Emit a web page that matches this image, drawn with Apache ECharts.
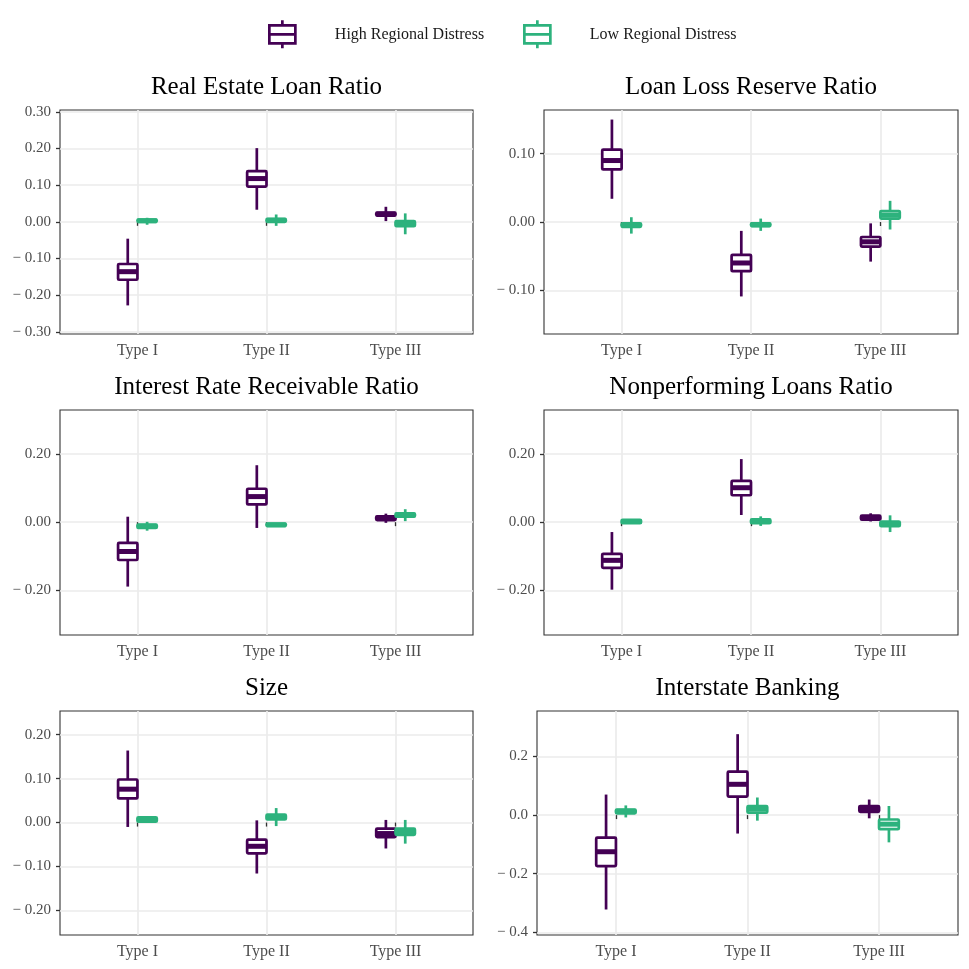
<!DOCTYPE html>
<html>
<head>
<meta charset="utf-8">
<script src="https://cdn.jsdelivr.net/npm/echarts@6/dist/echarts.min.js"></script>
<style>
  html, body { margin: 0; padding: 0; background: #fff; }
  #chart { width: 969px; height: 969px; }
</style>
</head>
<body>
<div id="chart"></div>
<script>
// categories and group names
const types = ['Type I', 'Type II', 'Type III'];
const groups = ['High Regional Distress', 'Low Regional Distress'];
const panelTitles = ['Real Estate Loan Ratio', 'Loan Loss Reserve Ratio', 'Interest Rate Receivable Ratio',
  'Nonperforming Loans Ratio', 'Size', 'Interstate Banking'];

// box stats per type: [lower whisker, q1, median, q3, upper whisker]
const realEstateHigh = [[-0.228, -0.158, -0.136, -0.115, -0.046], [0.033, 0.096, 0.118, 0.138, 0.201], [0.002, 0.017, 0.021, 0.025, 0.041]];
const realEstateLow = [[-0.008, 0.000, 0.003, 0.006, 0.011], [-0.011, 0.000, 0.004, 0.008, 0.020], [-0.034, -0.012, -0.005, 0.002, 0.023]];
const loanLossHigh = [[0.034, 0.077, 0.090, 0.106, 0.150], [-0.109, -0.072, -0.060, -0.048, -0.013], [-0.058, -0.036, -0.029, -0.022, -0.002]];
const loanLossLow = [[-0.017, -0.007, -0.005, -0.002, 0.007], [-0.013, -0.006, -0.004, -0.002, 0.005], [-0.011, 0.005, 0.010, 0.016, 0.031]];
const interestHigh = [[-0.189, -0.111, -0.086, -0.061, 0.016], [-0.017, 0.052, 0.075, 0.098, 0.167], [-0.002, 0.006, 0.012, 0.017, 0.025]];
const interestLow = [[-0.025, -0.017, -0.012, -0.007, 0.001], [-0.013, -0.011, -0.008, -0.004, -0.003], [0.003, 0.016, 0.021, 0.026, 0.038]];
const nonperfHigh = [[-0.198, -0.134, -0.112, -0.093, -0.029], [0.021, 0.079, 0.101, 0.121, 0.185], [0.002, 0.007, 0.013, 0.019, 0.026]];
const nonperfLow = [[-0.004, -0.003, 0.002, 0.007, 0.008], [-0.011, -0.003, 0.003, 0.008, 0.017], [-0.029, -0.012, -0.006, 0.002, 0.020]];
const sizeHigh = [[-0.010, 0.055, 0.076, 0.098, 0.164], [-0.116, -0.070, -0.054, -0.039, 0.005], [-0.059, -0.033, -0.025, -0.014, 0.006]];
const sizeLow = [[0.001, 0.002, 0.007, 0.012, 0.013], [-0.008, 0.007, 0.013, 0.018, 0.033], [-0.048, -0.028, -0.021, -0.014, 0.006]];
const interstateHigh = [[-0.322, -0.174, -0.125, -0.077, 0.070], [-0.063, 0.063, 0.105, 0.148, 0.276], [-0.011, 0.011, 0.021, 0.031, 0.053]];
const interstateLow = [[-0.008, 0.006, 0.013, 0.019, 0.033], [-0.019, 0.008, 0.020, 0.031, 0.060], [-0.093, -0.048, -0.031, -0.015, 0.031]];

// y tick labels and axis limits
const realEstateTicks = [-0.3, -0.2, -0.1, 0, 0.1, 0.2, 0.3];
const loanLossTicks = [-0.1, 0, 0.1];
const interestTicks = [-0.2, 0, 0.2];
const nonperfTicks = [-0.2, 0, 0.2];
const sizeTicks = [-0.2, -0.1, 0, 0.1, 0.2];
const interstateTicks = [-0.4, -0.2, 0, 0.2];
const realEstateLimits = [-0.306, 0.305];
const loanLossLimits = [-0.164, 0.164];
const interestLimits = [-0.331, 0.329];
const nonperfLimits = [-0.331, 0.329];
const sizeLimits = [-0.256, 0.254];
const interstateLimits = [-0.409, 0.355];

const colors = ['#440154', '#2DB27D'];
const font = "'Liberation Serif', 'DejaVu Serif', serif";

const panels = [
  { high: realEstateHigh, low: realEstateLow, ticks: realEstateTicks, limits: realEstateLimits, digits: 2 },
  { high: loanLossHigh, low: loanLossLow, ticks: loanLossTicks, limits: loanLossLimits, digits: 2 },
  { high: interestHigh, low: interestLow, ticks: interestTicks, limits: interestLimits, digits: 2 },
  { high: nonperfHigh, low: nonperfLow, ticks: nonperfTicks, limits: nonperfLimits, digits: 2 },
  { high: sizeHigh, low: sizeLow, ticks: sizeTicks, limits: sizeLimits, digits: 2 },
  { high: interstateHigh, low: interstateLow, ticks: interstateTicks, limits: interstateLimits, digits: 1 }
];

// plot rects [left, top, width, height]
const rects = [
  [60, 110, 413, 224], [544, 110, 414, 224],
  [60, 410, 413, 225], [544, 410, 414, 225],
  [60, 711, 413, 224], [537, 711, 421, 224]
];

const boxWidth = 0.15;

function fmt(v, d) {
  const s = Math.abs(v).toFixed(d);
  return v < -1e-9 ? '\u2212 ' + s : s;
}

function boxRenderer(offset, color) {
  return function (params, api) {
    const x = api.value(0) + offset;
    const lo = api.coord([x, api.value(1)]);
    const q1 = api.coord([x, api.value(2)]);
    const med = api.coord([x, api.value(3)]);
    const q3 = api.coord([x, api.value(4)]);
    const hi = api.coord([x, api.value(5)]);
    const w = api.size([boxWidth, 0])[0];
    const cx = lo[0];
    return {
      type: 'group',
      children: [
        { type: 'line', shape: { x1: cx, y1: lo[1], x2: cx, y2: hi[1] },
          style: { stroke: color, lineWidth: 2.7 } },
        { type: 'rect', shape: { x: cx - w / 2, y: q3[1], width: w, height: q1[1] - q3[1], r: 1 },
          style: { fill: '#fff', stroke: color, lineWidth: 2.7 } },
        { type: 'line', shape: { x1: cx - w / 2, y1: med[1], x2: cx + w / 2, y2: med[1] },
          style: { stroke: color, lineWidth: 5 } }
      ]
    };
  };
}

const grid = [], xAxis = [], yAxis = [], series = [], title = [];

panels.forEach((p, i) => {
  const r = rects[i];
  grid.push({ left: r[0], top: r[1], width: r[2], height: r[3], show: true,
    borderColor: '#333', borderWidth: 1.1, backgroundColor: 'transparent' });
  title.push({ text: panelTitles[i], left: r[0] + r[2] / 2, top: r[1] - 35, textAlign: 'center', padding: 0,
    textStyle: { fontFamily: font, fontSize: 25, fontWeight: 'normal', color: '#000' } });
  xAxis.push({
    type: 'value', gridIndex: i, min: 0.4, max: 3.6,
    axisLine: { show: false },
    axisTick: { show: true, length: 4, customValues: [1, 2, 3], lineStyle: { color: '#333', width: 1.3 } },
    axisLabel: { customValues: [1, 2, 3], margin: 9, formatter: v => types[Math.round(v) - 1] || '',
      fontFamily: font, fontSize: 16, color: '#4D4D4D' },
    splitLine: { show: true, lineStyle: { color: '#EBEBEB', width: 1.7 } }
  });
  yAxis.push({
    type: 'value', gridIndex: i, min: p.limits[0], max: p.limits[1],
    axisLine: { show: false },
    axisTick: { show: true, length: 4, customValues: p.ticks, lineStyle: { color: '#333', width: 1.3 } },
    axisLabel: { customValues: p.ticks, margin: 9, formatter: v => fmt(v, p.digits),
      fontFamily: font, fontSize: 15, color: '#4D4D4D' },
    splitLine: { show: true, lineStyle: { color: '#EBEBEB', width: 1.7 } }
  });
  [p.high, p.low].forEach((stats, g) => {
    series.push({
      type: 'custom', name: groups[g], xAxisIndex: i, yAxisIndex: i,
      itemStyle: { color: colors[g] },
      encode: { x: 0, y: [1, 2, 3, 4, 5] },
      renderItem: boxRenderer(g === 0 ? -boxWidth / 2 : boxWidth / 2, colors[g]),
      data: types.map((t, k) => [k + 1].concat(stats[k]))
    });
  });
});

const iconPath = 'path://M14,0L14,5M1,5L27,5L27,23L1,23ZM1,14L27,14M14,23L14,28';
const legend = groups.map((name, g) => ({
  left: g === 0 ? 268 : 523, top: 19, padding: 0,
  itemWidth: 29, itemHeight: 28, selectedMode: false,
  data: [{ name: name, icon: iconPath,
    itemStyle: { color: '#fff', borderColor: colors[g], borderWidth: 2.7 } }],
  textStyle: { fontFamily: font, fontSize: 16, color: '#1a1a1a', padding: [0, 0, 0, 33] }
}));

const chart = echarts.init(document.getElementById('chart'));
chart.setOption({
  animation: false,
  backgroundColor: '#fff',
  title: title,
  legend: legend,
  grid: grid,
  xAxis: xAxis,
  yAxis: yAxis,
  series: series
});
</script>
</body>
</html>
